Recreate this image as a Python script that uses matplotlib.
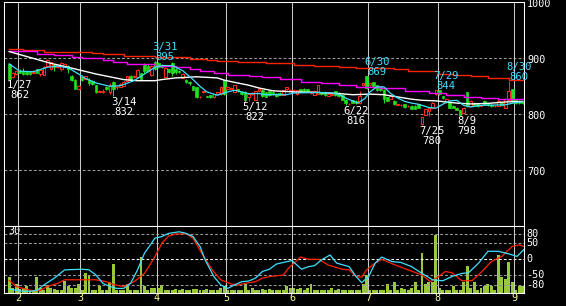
import matplotlib
matplotlib.use("Agg")
import matplotlib.pyplot as plt
from matplotlib.patches import Rectangle

# ---------------- data ----------------
opens = [890,866,872,878,878,876,876,874,880,872,871,886,880,888,884,880,886,887,868,862,
         846,866,863,862,860,852,840,840,849,839,858,848,849,851,860,868,866,867,873,888,
         886,870,893,892,888,867,880,892,880,878,865,862,858,850,848,830,840,832,834,830,
         837,836,861,846,846,839,845,840,840,831,836,826,842,844,839,841,840,837,838,835,
         845,842,843,836,845,845,845,838,835,837,839,840,833,835,841,838,835,826,818,825,
         824,820,852,868,852,857,852,849,843,830,828,824,817,816,818,814,815,815,818,782,
         799,805,812,836,843,832,822,822,815,812,807,803,839,815,821,818,815,824,820,817,
         814,815,821,812,826,845,826,824,822]
highs = [891,875,878,880,882,877,877,879,881,881,886,898,894,890,889,894,891,888,870,863,
         853,870,869,864,861,853,843,845,851,855,860,852,856,859,869,870,870,880,874,892,
         889,888,895,894,890,884,881,893,882,879,873,863,859,851,849,833,842,833,835,837,
         840,850,862,849,848,853,846,842,841,838,840,842,846,845,840,842,841,838,839,844,
         849,845,846,844,846,847,846,842,843,853,840,841,838,838,842,839,836,827,820,826,
         825,841,856,869,856,858,853,850,845,831,833,825,819,818,819,816,816,816,819,796,
         810,812,822,844,844,833,829,823,816,813,808,813,840,825,822,819,817,825,821,818,
         816,829,822,829,860,846,827,825,823]
lows = [862,865,871,873,871,871,871,873,873,869,870,885,879,877,882,878,884,873,860,845,
        844,860,861,853,852,838,839,838,844,837,832,846,848,850,858,860,864,866,862,874,
        875,868,879,883,882,866,874,868,872,873,864,856,853,843,829,829,838,830,829,829,
        836,835,835,845,845,838,839,834,822,823,834,825,840,831,830,833,835,830,834,834,
        844,841,842,835,839,840,839,837,834,836,835,833,832,834,833,831,825,816,817,820,
        819,819,850,846,851,849,842,841,820,823,827,817,816,815,812,813,809,809,811,780,
        798,797,811,835,835,828,821,811,811,807,798,802,813,814,815,813,814,817,815,813,
        813,814,815,811,825,822,819,819,819]
closes = [863,874,877,874,872,872,872,876,874,879,885,897,893,885,887,892,889,880,862,846,
          851,862,868,856,854,839,842,841,845,853,845,849,854,858,868,861,868,879,863,878,
          877,887,881,885,884,882,876,873,876,875,872,858,855,844,830,831,841,831,830,836,
          839,849,836,848,847,852,841,836,826,836,838,841,845,832,831,834,836,832,835,843,
          848,844,844,843,840,841,840,841,842,852,836,834,837,837,834,832,826,820,819,821,
          820,832,855,847,855,850,844,843,827,824,832,818,818,817,813,815,810,810,812,795,
          809,811,821,843,836,829,828,812,812,808,799,812,814,824,816,814,816,818,816,814,
          815,824,816,828,842,823,820,820,820]

volumes = [7,2,4,1.5,2,3,1,1,7,2,1,3.5,2,1.5,1,1,5.5,3,2,2,
           4,1,9,8,1,1,3,1,1,5,13,1,1,1,4,1,1,1,16,3,
           1,2,2,2,3.5,1,1,1,1.5,1,1.5,1,1,1.5,1.5,1,1,1.5,1,1,
           1,2,3,1,1,1,1,1,4,1,2,1,1,1.5,1,1.5,1,1,1,1,
           3,2,2,1.5,2,1,2,4,1,1,1,1,1,2,1,1.5,1,1,1,1,
           1,1,4,8,1,1,1,1,1,4,1,5,1,2,1.5,1,2,5,1,18,
           4,5,5,26,2,1,1,1,3,1,1,5,12,2,5,1,2,3,4,3,
           1,17,7,6,14,5,1,3,3]

month_pos = [3, 21, 43, 63, 82, 104, 124, 146]
month_labels = ["2", "3", "4", "5", "6", "7", "8", "9"]

# moving averages (day index, price)
ma_long_x = [0,4,10,18,24,27,33,42,52,57,60,66,74,82,88,95,100,111,115,124,128,133,138,144]
ma_long_y = [916,914,912,910.5,909,907.5,904.5,901.7,898.5,897,895,893,891,888.5,885.5,884,
             882,880,877.5,872,870,868.4,865.4,861.5]
ma_mid_x = [0,8,13,18,21,27,30,34,42,48,52,55,59,63,69,73,78,84,90,95,100,107,114,121,126,131,136,141]
ma_mid_y = [913.5,908,906,903,900,897,894,890,886,884,880,877,874,871,868.5,866,863,858.5,
            855.5,852,848,846.5,842.2,838.6,834.5,830.3,828.5,826.7]
ma_25_x = [0,4,8,12,17,21,25,29,33,37,42,44,48,54,60,62,65,69,72,76,82,89,95,99,104,108,112,
           116,119,123,129,133,138,143,148]
ma_25_y = [912,905,898,891,884,878,872,867,862,860,860,862,865,867,865,861,857,852,847,842,
           840,839,837,835,836,835,831,827,825,824,820,818.5,819.5,822,823]
ma_5_x = [0,3,7,11,14,17,20,22,25,29,32,36,40,42,44,47,50,53,55,57,60,63,65,69,72,74,80,82,
          89,93,95,97,99,100.5,102.5,104,106,108,110,112,114,116,118,121,123,125,127,129,131,
          133,136,143,146,148]
ma_5_y = [890,877,876,884,886,883,872,864,856,850,851,860,876,884,887,887,878,862,850,840,
          834,840,843,837,837,835,835,838,839,838,836,829,824,820,828,840,849,849,837,829,
          823,820,818,812,811,818,824,825,816,813,816,817,821,822]

# oscillators (day index, value)
osc_fast_x = [0,2,4,6,8,10,13,16,21,23,25,27,29,31,33,35,37,39,41,42,44,46,49,51,53,55,56.5,
              59,61,63,65,67,69,71,73,75,77,79,81.5,84.3,86.3,88,90,92.5,94.4,98,100,101.6,
              103.6,105.5,107.4,110.3,113,116,119,122,125,127.6,130.5,132.4,135.3,138,141,
              144,146.4,148.8]
osc_fast_y = [-93,-97,-100,-100,-97,-80,-59,-33,-31,-33,-49,-75,-85,-91,-91,-75,-33,19,50,66,
              71,81,86,81,71,40,-2,-54,-80,-91,-80,-70,-68,-59,-38,-31,-15,-10,-4,-31,-23,
              -20,-2,13.5,-12,-23,-54,-73,-54,-12,7,-7,-10,-23,-44,-64,-67,-54,-44,-42,-12,
              25,25,17,9,35]
osc_slow_x = [0,2,4,7,9,11,14,16,21,25,28,30.5,33,36,39,42,44,46,48,51,53,55.5,58.5,61,64,
              66,68,71,73,75,79,80.5,84,86.3,89.2,92,96,98,100,101.6,103,105.5,107.4,111.3,
              115,119,121.4,123.8,125.7,127.6,130.5,133.4,136.3,139,142,145,147,148.8]
osc_slow_y = [-66,-85,-91,-99,-97,-85,-75,-64,-64,-64,-70,-80,-85,-70,-44,8,50,73,79,80,66,
              19,-33,-64,-77,-80,-75,-70,-59,-54,-49,-28,7,0,0,-18,-31,-33,-54,-56,-33,-12,
              0,-18,-33,-49,-70,-54,-38,-42,-67,-67,-38,-7,9,40,45,38]

low_idx = [0, 30, 68, 97, 119, 130]
low_dates = ["1/27", "3/14", "5/12", "6/22", "7/25", "8/9"]
low_vals = [862, 832, 822, 816, 780, 798]
high_idx = [42, 103, 123, 144]
high_dates = ["3/31", "6/30", "7/29", "8/30"]
high_vals = [895, 869, 844, 860]

price_ticks = [1000, 900, 800, 700]
osc_ticks = [80, 50, 0, -50, -80]

# ---------------- style ----------------
W, H = 566, 306
FONT = "DejaVu Sans Mono"
UP = "#ff2a1a"
DOWN = "#22dd22"
CYAN = "#3fe0ff"
GRID = "#9a9a9a"
MONTHLINE = "#c8c8c8"
VOLC = "#99c83c"
YEL = "#ffff99"
LW = 0.75

XMIN, XMAX = -1.5, 148.4

fig = plt.figure(figsize=(W / 100, H / 100), dpi=100, facecolor="black")

def rect(l, t, r, b):
    return [l / W, 1 - b / H, (r - l) / W, (b - t) / H]

ax = fig.add_axes(rect(4, 2.3, 524, 226.3))
axv = fig.add_axes(rect(4, 226.3, 524, 292.7))
axo = fig.add_axes(rect(4, 226.3, 524, 292.7))

for a in (ax, axv, axo):
    a.set_xlim(XMIN, XMAX)
    a.set_xticks([])
    a.set_yticks([])
    for s in a.spines.values():
        s.set_color("white")
        s.set_linewidth(LW)
ax.set_facecolor("black")
axv.set_facecolor("black")
axo.patch.set_visible(False)

ax.set_ylim(600, 1000)
axv.set_ylim(0, 30)
axo.set_ylim(-104.4, 103.1)

# grid lines
for v in [900, 800, 700]:
    ax.axhline(v, color=GRID, lw=LW, dashes=(2.7, 2.0), zorder=1)
for v in [80, 50, -50, -80]:
    axo.axhline(v, color=GRID, lw=LW, dashes=(2.7, 2.0), zorder=1)
axo.axhline(0, color="white", lw=LW, dashes=(2.7, 2.0), zorder=1)
for m in month_pos:
    ax.axvline(m - 0.45, color=MONTHLINE, lw=LW, zorder=1)
    axo.axvline(m - 0.45, color=MONTHLINE, lw=LW, zorder=1)

# candles
bw = 0.75
for i, (o, h, l, c) in enumerate(zip(opens, highs, lows, closes)):
    if c >= o:
        col = UP
        ax.vlines(i, l, h, color=col, lw=LW, zorder=3)
        ax.add_patch(Rectangle((i - bw / 2, o), bw, max(c - o, 0.3), facecolor="black",
                               edgecolor=col, lw=LW, zorder=3.5))
    else:
        col = DOWN
        ax.vlines(i, l, h, color=col, lw=LW, zorder=3)
        ax.add_patch(Rectangle((i - bw / 2, c), bw, o - c, facecolor=col,
                               edgecolor=col, lw=0.5, zorder=3.5))

# moving averages
ax.step(ma_long_x + [XMAX], ma_long_y + [ma_long_y[-1]], where="post", color="#ff2200",
        lw=1.0, zorder=4)
ax.step(ma_mid_x + [XMAX], ma_mid_y + [ma_mid_y[-1]], where="post", color="#ff00ff",
        lw=1.0, zorder=4)
ax.plot(ma_25_x, ma_25_y, color="white", lw=1.0, zorder=4)
ax.plot(ma_5_x, ma_5_y, color=CYAN, lw=0.9, zorder=4.5)

# peak/trough labels
for i, d, v in zip(low_idx, low_dates, low_vals):
    ax.text(i - 0.7, v - 0.5, f"{d}\n{v}", color="white", fontsize=7.6, family=FONT,
            ha="left", va="top", multialignment="center", linespacing=1.0,
            zorder=6, clip_on=False)
for i, d, v in zip(high_idx, high_dates, high_vals):
    ax.text(i - 0.7, v - 2.5, f"{d}\n{v}", color=CYAN, fontsize=7.6, family=FONT,
            ha="left", va="bottom", multialignment="center", linespacing=1.0,
            zorder=6, clip_on=False)

# right price labels
for v in price_ticks:
    ax.text(1.006, v - 3.5, str(v), transform=ax.get_yaxis_transform(), color="white",
            fontsize=7.3, family=FONT, ha="left", va="center", clip_on=False)
for v in osc_ticks:
    axo.text(1.004, v, str(v), transform=axo.get_yaxis_transform(), color="white",
             fontsize=7.3, family=FONT, ha="left", va="center", clip_on=False)

# volume
axv.bar(range(len(volumes)), volumes, width=0.85, color=VOLC, zorder=2)
axv.text(0.008, 0.93, "30", transform=axv.transAxes, color="white", fontsize=7.3,
         family=FONT, ha="left", va="center")

# oscillators
axo.plot(osc_slow_x, osc_slow_y, color="#ff2200", lw=0.9, zorder=4)
axo.plot(osc_fast_x, osc_fast_y, color=CYAN, lw=0.9, zorder=4.5)

# month labels
for m, lab in zip(month_pos, month_labels):
    axo.text(m - 0.45, -121, lab, color=YEL, fontsize=7.3, family=FONT, ha="center",
             va="center", clip_on=False)

fig.savefig("out.png", dpi=100, facecolor="black")
